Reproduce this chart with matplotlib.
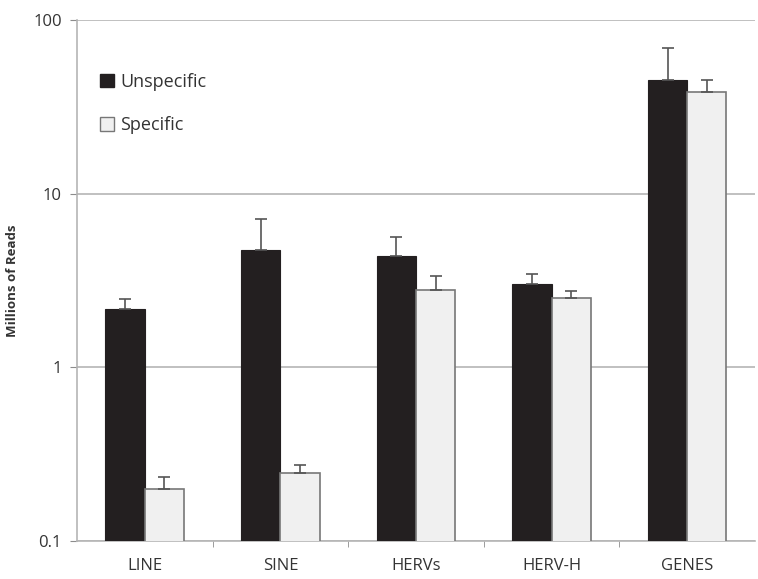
import numpy as np
import matplotlib.pyplot as plt
from matplotlib.patches import Patch

# Data
categories = ['LINE', 'SINE', 'HERVs', 'HERV-H', 'GENES']
unspecific = [2.16, 4.72, 4.35, 3.0, 44.9]
unspecific_err = [0.3, 2.4, 1.25, 0.45, 24.0]
specific = [0.2, 0.245, 2.77, 2.5, 38.3]
specific_err = [0.035, 0.03, 0.6, 0.25, 7.0]

plt.rcParams['font.family'] = ['Open Sans', 'DejaVu Sans']

fig = plt.figure(figsize=(7.58, 5.79), dpi=100)
ax = fig.add_axes([0.1016, 0.0656, 0.8944, 0.8999])

x = np.arange(len(categories))
w = 0.29
grey = '#8c8c8c'

ax.bar(x - w/2, unspecific, w, color='#231f20', edgecolor='#231f20', linewidth=0.8,
       yerr=[np.zeros(len(x)), unspecific_err], ecolor='#555555',
       error_kw=dict(capsize=4, elinewidth=1.2, capthick=1.2), zorder=3)
ax.bar(x + w/2, specific, w, color='#f0f0f0', edgecolor='#777777', linewidth=1.2,
       yerr=[np.zeros(len(x)), specific_err], ecolor='#555555',
       error_kw=dict(capsize=4, elinewidth=1.2, capthick=1.2), zorder=3)

ax.set_yscale('log')
ax.set_ylim(0.1, 100)
ax.set_xlim(-0.5, len(categories) - 0.5)
ax.set_yticks([0.1, 1, 10, 100])
ax.set_yticklabels(['0.1', '1', '10', '100'])
ax.yaxis.set_minor_locator(plt.NullLocator())
ax.yaxis.grid(True, color='#b5b5b5', linewidth=1.2, zorder=0)

ax.set_xticks(x)
ax.set_xticklabels(categories)
ax.set_xticks(np.arange(0.5, len(categories) - 0.5, 1), minor=True)
ax.tick_params(axis='x', which='major', length=0, pad=12, labelsize=12, labelcolor='#333333')
ax.tick_params(axis='x', which='minor', length=4, color=grey, direction='out')
ax.tick_params(axis='y', length=5, color=grey, labelsize=12, labelcolor='#333333', pad=6)

for s in ['top', 'right']:
    ax.spines[s].set_visible(False)
ax.spines['left'].set_color('#b5b5b5')
ax.spines['left'].set_linewidth(1.2)
ax.spines['bottom'].set_color('#b5b5b5')
ax.spines['bottom'].set_linewidth(1.2)

ax.set_ylabel('Millions of Reads', fontsize=9.5, fontweight='bold', color='#333333', labelpad=10)

handles = [Patch(facecolor='#231f20', edgecolor='#231f20', label='Unspecific'),
           Patch(facecolor='#f0f0f0', edgecolor='#777777', label='Specific')]
leg = ax.legend(handles=handles, loc='upper left', bbox_to_anchor=(0.01, 0.93),
                frameon=False, fontsize=13, labelspacing=1.4, handlelength=0.8,
                handleheight=0.8, handletextpad=0.3, labelcolor='#333333')

fig.savefig('out.png', dpi=100)
